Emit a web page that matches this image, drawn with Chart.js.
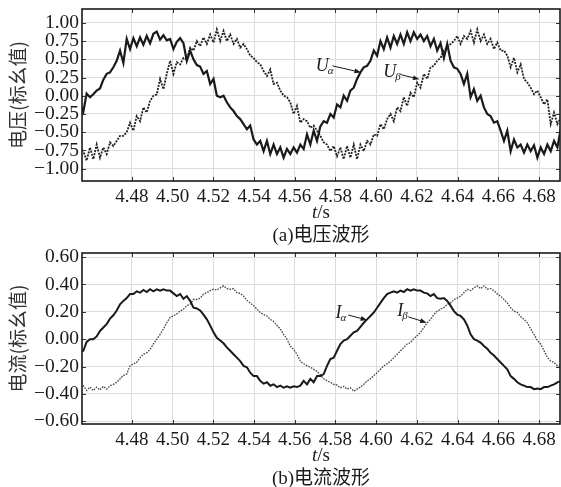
<!DOCTYPE html>
<html>
<head>
<meta charset="utf-8">
<script src="https://cdn.jsdelivr.net/npm/chart.js@4.4.0/dist/chart.umd.min.js"></script>
<style>
  html, body { margin: 0; padding: 0; background: #fff; }
  #wrap { position: relative; width: 561px; height: 487px; }
  #c1 { position: absolute; left: 0; top: 0; }
  #c2 { position: absolute; left: 0; top: 246px; }
</style>
</head>
<body>
<div id="wrap">
  <canvas id="c1" width="561" height="246"></canvas>
  <canvas id="c2" width="561" height="241"></canvas>
</div>
<script>
// sampling of the recorded waveforms
const t0 = 4.4545;
const dt = 0.00164;

// voltage, per unit
const uAlpha = [
  -0.12, -0.22, 0.03, -0.02, 0.02, 0.07, 0.10, 0.22, 0.30, 0.32,
  0.39, 0.48, 0.62, 0.45, 0.78, 0.64, 0.79, 0.68, 0.80, 0.70,
  0.82, 0.72, 0.85, 0.88, 0.77, 0.83, 0.76, 0.78, 0.64, 0.74,
  0.79, 0.72, 0.48, 0.62, 0.50, 0.42, 0.40, 0.30, 0.34, 0.16,
  0.23, 0.00, -0.02, 0.00, -0.09, -0.16, -0.21, -0.28, -0.32, -0.39,
  -0.46, -0.41, -0.60, -0.67, -0.62, -0.76, -0.62, -0.80, -0.67, -0.80,
  -0.71, -0.85, -0.73, -0.80, -0.71, -0.78, -0.67, -0.73, -0.53, -0.67,
  -0.48, -0.62, -0.42, -0.35, -0.37, -0.25, -0.30, -0.12, -0.16, 0.00,
  -0.07, 0.07, 0.11, 0.23, 0.32, 0.39, 0.41, 0.48, 0.62, 0.55,
  0.75, 0.64, 0.80, 0.66, 0.82, 0.71, 0.84, 0.71, 0.87, 0.75,
  0.87, 0.78, 0.84, 0.75, 0.82, 0.68, 0.78, 0.62, 0.72, 0.52,
  0.71, 0.48, 0.39, 0.37, 0.30, 0.16, 0.30, -0.02, 0.09, -0.07,
  0.00, -0.16, -0.25, -0.28, -0.37, -0.35, -0.48, -0.62, -0.48, -0.76,
  -0.60, -0.71, -0.67, -0.78, -0.67, -0.76, -0.68, -0.85, -0.71, -0.80,
  -0.67, -0.76, -0.62, -0.71, -0.46
];
const uBeta = [
  -0.71, -0.76, -0.89, -0.71, -0.87, -0.67, -0.85, -0.71, -0.80, -0.64,
  -0.69, -0.62, -0.55, -0.55, -0.50, -0.37, -0.48, -0.28, -0.35, -0.16,
  -0.23, -0.07, 0.00, 0.02, 0.23, 0.09, 0.30, 0.48, 0.30, 0.46,
  0.43, 0.52, 0.50, 0.66, 0.62, 0.75, 0.68, 0.80, 0.71, 0.84,
  0.73, 0.91, 0.75, 0.89, 0.75, 0.84, 0.71, 0.78, 0.66, 0.71,
  0.64, 0.55, 0.52, 0.46, 0.43, 0.34, 0.27, 0.36, 0.16, 0.18,
  0.07, 0.00, -0.02, -0.09, -0.25, -0.14, -0.37, -0.32, -0.35, -0.44,
  -0.41, -0.48, -0.55, -0.64, -0.67, -0.76, -0.69, -0.83, -0.71, -0.87,
  -0.69, -0.85, -0.67, -0.87, -0.67, -0.76, -0.62, -0.67, -0.53, -0.55,
  -0.39, -0.46, -0.32, -0.25, -0.35, -0.16, -0.21, -0.02, -0.14, 0.04,
  -0.02, 0.18, 0.11, 0.30, 0.23, 0.39, 0.41, 0.48, 0.52, 0.62,
  0.66, 0.71, 0.75, 0.82, 0.71, 0.82, 0.78, 0.89, 0.73, 0.91,
  0.75, 0.84, 0.71, 0.78, 0.64, 0.73, 0.62, 0.62, 0.55, 0.39,
  0.52, 0.32, 0.43, 0.23, 0.18, 0.11, 0.02, 0.07, -0.02, -0.12,
  -0.05, -0.39, -0.23, -0.39, -0.30
];

// current, per unit
const iAlpha = [
  -0.085, -0.085, -0.02, 0.0, 0.0, 0.02, 0.06, 0.085, 0.11, 0.15,
  0.175, 0.21, 0.255, 0.28, 0.30, 0.33, 0.33, 0.35, 0.34, 0.36,
  0.345, 0.365, 0.35, 0.365, 0.355, 0.365, 0.355, 0.355, 0.335, 0.315,
  0.33, 0.295, 0.315, 0.28, 0.23, 0.225, 0.21, 0.18, 0.145, 0.10,
  0.05, 0.01, -0.01, -0.03, -0.06, -0.085, -0.11, -0.135, -0.16, -0.195,
  -0.205, -0.245, -0.27, -0.27, -0.305, -0.325, -0.315, -0.34, -0.33, -0.35,
  -0.34, -0.355, -0.345, -0.355, -0.345, -0.35, -0.34, -0.305, -0.33, -0.29,
  -0.315, -0.27, -0.27, -0.255, -0.195, -0.145, -0.135, -0.085, -0.035, -0.01,
  0.0, 0.025, 0.05, 0.06, 0.09, 0.12, 0.145, 0.17, 0.195, 0.23,
  0.265, 0.30, 0.33, 0.34, 0.35, 0.34, 0.355, 0.345, 0.365, 0.355,
  0.365, 0.355, 0.355, 0.34, 0.335, 0.315, 0.33, 0.30, 0.295, 0.30,
  0.28, 0.245, 0.205, 0.18, 0.17, 0.145, 0.10, 0.035, 0.0, -0.01,
  -0.025, -0.05, -0.07, -0.10, -0.12, -0.145, -0.17, -0.195, -0.22, -0.27,
  -0.29, -0.315, -0.33, -0.34, -0.35, -0.35, -0.365, -0.36, -0.365, -0.35,
  -0.35, -0.34, -0.33, -0.315, -0.305
];
const iBeta = [
  -0.34, -0.34, -0.375, -0.35, -0.375, -0.35, -0.37, -0.345, -0.365, -0.34,
  -0.33, -0.315, -0.29, -0.265, -0.255, -0.195, -0.18, -0.17, -0.135, -0.11,
  -0.10, -0.075, -0.035, 0.0, 0.035, 0.075, 0.12, 0.16, 0.17, 0.185,
  0.205, 0.22, 0.245, 0.255, 0.29, 0.29, 0.30, 0.33, 0.34, 0.355,
  0.365, 0.36, 0.375, 0.39, 0.37, 0.365, 0.37, 0.34, 0.335, 0.315,
  0.285, 0.265, 0.245, 0.22, 0.195, 0.18, 0.17, 0.145, 0.13, 0.10,
  0.075, 0.035, 0.0, -0.05, -0.075, -0.11, -0.16, -0.18, -0.195, -0.205,
  -0.22, -0.235, -0.26, -0.29, -0.305, -0.315, -0.33, -0.335, -0.355, -0.345,
  -0.365, -0.355, -0.38, -0.365, -0.35, -0.33, -0.305, -0.29, -0.265, -0.245,
  -0.22, -0.195, -0.18, -0.16, -0.135, -0.11, -0.085, -0.06, -0.035, -0.025,
  0.005, 0.025, 0.05, 0.085, 0.12, 0.145, 0.18, 0.205, 0.22, 0.23,
  0.255, 0.265, 0.29, 0.30, 0.315, 0.34, 0.365, 0.355, 0.375, 0.39,
  0.37, 0.39, 0.365, 0.37, 0.355, 0.33, 0.315, 0.29, 0.265, 0.23,
  0.205, 0.195, 0.165, 0.145, 0.12, 0.075, 0.035, -0.01, -0.035, -0.085,
  -0.135, -0.16, -0.17, -0.195, -0.195
];

// axes
const tMin = 4.4555, tMax = 4.6903;
const tTicks = [4.48, 4.50, 4.52, 4.54, 4.56, 4.58, 4.60, 4.62, 4.64, 4.66, 4.68];
const uTicks = [1.00, 0.75, 0.50, 0.25, 0.00, -0.25, -0.50, -0.75, -1.00];
const iTicks = [0.60, 0.40, 0.20, 0.00, -0.20, -0.40, -0.60];

// labels with arrows: text anchor, arrow tail, arrow head (t, value)
const uNotes = [
  { name: 'U', sub: 'α', at: [4.5703, 0.335], from: [4.5785, 0.41], to: [4.5926, 0.32] },
  { name: 'U', sub: 'β', at: [4.6035, 0.26], from: [4.6120, 0.29], to: [4.6213, 0.225] }
];
const iNotes = [
  { name: 'I', sub: 'α', at: [4.5800, 0.155], from: [4.5863, 0.177], to: [4.5956, 0.139] },
  { name: 'I', sub: 'β', at: [4.6103, 0.17], from: [4.6158, 0.163], to: [4.6248, 0.121] }
];

const serif = '"Liberation Serif", "Noto Sans CJK SC", serif';
const ink = '#1a1a1a';

const toPoints = vals => vals.map((v, k) => ({ x: t0 + k * dt, y: v }));
const fmt = v => v.toFixed(2).replace('-', '\u2212');

// frame, inward ticks, arrows and captions
const deco = {
  id: 'deco',
  afterDatasetsDraw(chart, args, opts) {
    const { ctx, chartArea: a } = chart;
    const xs = chart.scales.x, ys = chart.scales.y;
    ctx.save();
    ctx.strokeStyle = '#333';
    ctx.lineWidth = 1;
    ctx.beginPath();
    tTicks.forEach(v => {
      const x = Math.round(xs.getPixelForValue(v)) + 0.5;
      ctx.moveTo(x, a.top); ctx.lineTo(x, a.top + 4);
      ctx.moveTo(x, a.bottom); ctx.lineTo(x, a.bottom - 4);
    });
    opts.yTicks.forEach(v => {
      const y = Math.round(ys.getPixelForValue(v)) + 0.5;
      ctx.moveTo(a.left, y); ctx.lineTo(a.left + 4, y);
      ctx.moveTo(a.right, y); ctx.lineTo(a.right - 4, y);
    });
    ctx.stroke();
    ctx.strokeStyle = ink;
    ctx.lineWidth = 1.6;
    ctx.strokeRect(a.left, a.top, a.right - a.left, a.bottom - a.top);

    ctx.fillStyle = ink;
    opts.notes.forEach(n => {
      const tx = xs.getPixelForValue(n.at[0]), ty = ys.getPixelForValue(n.at[1]);
      ctx.textAlign = 'left';
      ctx.textBaseline = 'alphabetic';
      ctx.font = 'italic 18px ' + serif;
      ctx.fillText(n.name, tx, ty);
      const w = ctx.measureText(n.name).width;
      ctx.font = 'italic 11px ' + serif;
      ctx.fillText(n.sub, tx + w - 1, ty + 3);
      const x1 = xs.getPixelForValue(n.from[0]), y1 = ys.getPixelForValue(n.from[1]);
      const x2 = xs.getPixelForValue(n.to[0]), y2 = ys.getPixelForValue(n.to[1]);
      const ang = Math.atan2(y2 - y1, x2 - x1);
      ctx.strokeStyle = ink;
      ctx.lineWidth = 1;
      ctx.beginPath();
      ctx.moveTo(x1, y1);
      ctx.lineTo(x2 - 5 * Math.cos(ang), y2 - 5 * Math.sin(ang));
      ctx.stroke();
      ctx.beginPath();
      ctx.moveTo(x2, y2);
      ctx.lineTo(x2 - 7 * Math.cos(ang - 0.35), y2 - 7 * Math.sin(ang - 0.35));
      ctx.lineTo(x2 - 7 * Math.cos(ang + 0.35), y2 - 7 * Math.sin(ang + 0.35));
      ctx.closePath();
      ctx.fill();
    });

    // axis name t/s and the panel caption
    const cx = (a.left + a.right) / 2;
    ctx.textBaseline = 'middle';
    ctx.font = 'italic 19px ' + serif;
    const wt = ctx.measureText('t').width;
    ctx.font = '19px ' + serif;
    const ws = ctx.measureText('/s').width;
    ctx.textAlign = 'left';
    ctx.font = 'italic 19px ' + serif;
    ctx.fillText('t', cx - (wt + ws) / 2, a.bottom + 32);
    ctx.font = '19px ' + serif;
    ctx.fillText('/s', cx - (wt + ws) / 2 + wt, a.bottom + 32);
    ctx.textAlign = 'center';
    ctx.font = '19px ' + serif;
    ctx.fillText(opts.caption, cx, a.bottom + 55);
    ctx.restore();
  }
};

function panel(id, cfg) {
  return new Chart(document.getElementById(id), {
    type: 'line',
    data: {
      datasets: [
        { data: toPoints(cfg.a), borderColor: ink, borderWidth: cfg.wa, pointRadius: 0, tension: 0 },
        { data: toPoints(cfg.b), borderColor: cfg.cb, borderWidth: cfg.wb, borderDash: cfg.dash,
          pointRadius: 0, tension: 0 }
      ]
    },
    options: {
      responsive: false,
      animation: false,
      events: [],
      layout: { padding: { top: cfg.top, right: 1, left: 0, bottom: 0 } },
      plugins: {
        legend: { display: false },
        tooltip: { enabled: false },
        deco: { notes: cfg.notes, yTicks: cfg.ticks, caption: cfg.caption }
      },
      scales: {
        x: {
          type: 'linear', min: tMin, max: tMax,
          afterBuildTicks: s => { s.ticks = tTicks.map(v => ({ value: v })); },
          afterFit: s => { s.height = cfg.xh; s.paddingLeft = 0; s.paddingRight = 0; },
          grid: { color: '#dcdcdc', lineWidth: 1, drawTicks: false },
          border: { display: false },
          ticks: {
            autoSkip: false, maxRotation: 0, padding: 5, color: ink,
            font: { family: serif, size: 19 },
            callback: v => v.toFixed(2)
          }
        },
        y: {
          min: cfg.min, max: cfg.max,
          afterBuildTicks: s => { s.ticks = cfg.ticks.map(v => ({ value: v })); },
          afterFit: s => { s.width = 82; s.paddingTop = 0; s.paddingBottom = 0; },
          grid: { color: '#dcdcdc', lineWidth: 1, drawTicks: false },
          border: { display: false },
          ticks: {
            autoSkip: false, padding: 3, color: ink,
            font: { family: serif, size: 19.5 },
            callback: v => fmt(v)
          },
          title: {
            display: true, text: cfg.title, color: '#333',
            font: { family: '"Noto Sans CJK SC", sans-serif', size: 19 },
            padding: { top: 6, bottom: 0 }
          }
        }
      }
    },
    plugins: [deco]
  });
}

panel('c1', {
  a: uAlpha, b: uBeta, wa: 2.2, wb: 1.8, cb: '#222', dash: [2, 1.2],
  min: -1.17, max: 1.19, ticks: uTicks,
  notes: uNotes, caption: '(a)电压波形', title: '电压(标幺值)', top: 9, xh: 65
});
panel('c2', {
  a: iAlpha, b: iBeta, wa: 2, wb: 1.3, cb: '#444', dash: [1.6, 1.2],
  min: -0.62, max: 0.63, ticks: iTicks,
  notes: iNotes, caption: '(b)电流波形', title: '电流(标幺值)', top: 7, xh: 63
});
</script>
</body>
</html>
